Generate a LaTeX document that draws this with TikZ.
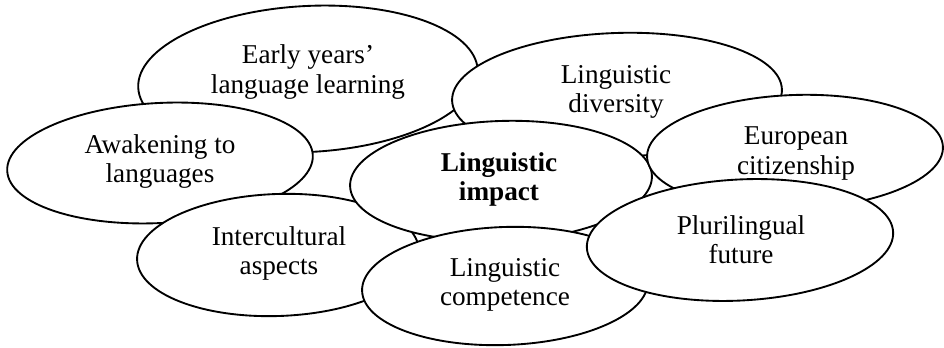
\documentclass[tikz,border=0pt]{standalone}
\usepackage{fontspec}
\setmainfont{Liberation Serif}
\usetikzlibrary{shapes.geometric}
\begin{document}
\begin{tikzpicture}[x=0.75pt,y=-0.75pt,
  oval/.style={ellipse,draw=black,fill=white,line width=1.4pt,inner sep=0pt},
  lbl/.style={align=center,inner sep=0pt,font=\fontsize{20.4}{21.9}\selectfont}]
\useasboundingbox (0,0) rectangle (944,348);
% Early years
\node[oval,minimum width=255pt,minimum height=109.5pt,rotate=3] (e1) at (308,79) {};
\node[lbl] (t1) at (308,72) {Early years’\\language learning};
% Awakening
\node[oval,minimum width=229.5pt,minimum height=90pt,rotate=3] (e2) at (160,163) {};
\node[lbl] (t2) at (160,161.5) {Awakening to\\languages};
% Intercultural
\node[oval,minimum width=211.5pt,minimum height=91.5pt,rotate=2] (e3) at (278,255) {};
\node[lbl] (t3) at (279,253.5) {Intercultural\\aspects};
% Diversity
\node[oval,minimum width=247.5pt,minimum height=93pt,rotate=2] (e4) at (617,95) {};
\node[lbl] (t4) at (616,92) {Linguistic\\diversity};
% Impact
\node[oval,minimum width=226.5pt,minimum height=90pt,rotate=2] (e5) at (501,181) {};
\node[lbl,font=\fontsize{20.4}{21.9}\selectfont\bfseries] (t5) at (499,179.5) {Linguistic\\impact};
% European
\node[oval,minimum width=222pt,minimum height=85.5pt,rotate=2] (e6) at (795,152) {};
\node[lbl] (t6) at (796,153.5) {European\\citizenship};
% Competence
\node[oval,minimum width=214.5pt,minimum height=88.5pt,rotate=2] (e7) at (505,286) {};
\node[lbl] (t7) at (505,284.5) {Linguistic\\competence};
% Plurilingual
\node[oval,minimum width=230pt,minimum height=90.75pt,rotate=3] (e8) at (740,240) {};
\node[lbl] (t8) at (741,240) {Plurilingual\\future};
\end{tikzpicture}
\end{document}
